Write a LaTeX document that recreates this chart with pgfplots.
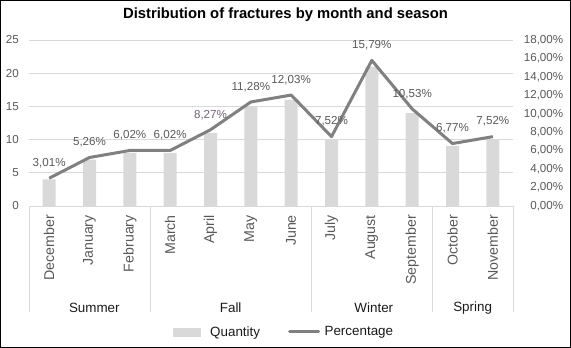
\documentclass[border=0pt]{standalone}
\usepackage{pgfplots}
\pgfplotsset{compat=1.18}
\usepackage{fontspec}
\setmainfont{Liberation Sans}

\definecolor{barfill}{HTML}{D9D9D9}
\definecolor{gridc}{HTML}{D9D9D9}
\definecolor{linec}{HTML}{808080}
\definecolor{labc}{HTML}{595959}
\definecolor{labp}{HTML}{74617A}
\definecolor{darktext}{HTML}{1A1A1A}

\newcommand{\tickfont}{\fontsize{11.6bp}{13bp}\selectfont}
\newcommand{\monthfont}{\fontsize{14.2bp}{16bp}\selectfont}
\newcommand{\groupfont}{\fontsize{13.4bp}{15bp}\selectfont}

\begin{document}
\begin{tikzpicture}
\useasboundingbox (0,0) rectangle (571bp,348bp);
\draw[black, line width=1bp] (0.5bp,0.5bp) rectangle (570.5bp,347.5bp);
\node[font=\fontsize{14.8bp}{17bp}\selectfont\bfseries] at (285.5bp,333bp)
  {Distribution of fractures by month and season};

% quantity (left axis)
\begin{axis}[
  at={(29bp,142bp)}, anchor=south west,
  width=484bp, height=166bp, scale only axis,
  xmin=-0.5, xmax=11.5, ymin=0, ymax=25,
  ytick={0,5,...,25},
  xtick={0,...,11},
  xticklabels={December,January,February,March,April,May,June,July,August,September,October,November},
  axis x line*=bottom, axis y line*=left,
  y axis line style={draw=none},
  x axis line style={gridc, line width=0.75bp, -},
  major tick length=0pt,
  ymajorgrids, grid style={gridc, line width=0.75bp},
  /pgf/number format/assume math mode=true,
  yticklabel style={font=\tickfont, text=labc, anchor=east, inner sep=0pt, xshift=-10bp},
  xticklabel style={font=\monthfont, text=labc, inner sep=0pt, yshift=-9bp, rotate=90, anchor=east},
  clip=false,
]
\addplot[ybar, bar width=13bp, fill=barfill, draw=none] coordinates {
  (0,4) (1,7) (2,8) (3,8) (4,11) (5,15) (6,16) (7,10) (8,21) (9,14) (10,9) (11,10)
};
% season brackets below the month labels
\pgfplotsinvokeforeach{-0.5,2.5,6.5,9.5,11.5}{
  \draw[gridc, line width=0.75bp] (axis cs:#1,0) -- ++(0bp,-106bp);
}
\node[font=\groupfont, text=darktext] at (axis cs:1.12,0) [yshift=-102bp] {Summer};
\node[font=\groupfont, text=darktext] at (axis cs:4.5,0) [yshift=-102bp] {Fall};
\node[font=\groupfont, text=darktext] at (axis cs:8.05,0) [yshift=-102bp] {Winter};
\node[font=\groupfont, text=darktext] at (axis cs:10.5,0) [yshift=-102bp] {Spring};
\end{axis}

% percentage (right axis)
\begin{axis}[
  at={(29bp,142bp)}, anchor=south west,
  width=484bp, height=166bp, scale only axis,
  xmin=-0.5, xmax=11.5, ymin=0, ymax=18,
  hide x axis,
  axis y line*=right,
  y axis line style={draw=none},
  ytick={0,2,...,18},
  major tick length=0pt,
  /pgf/number format/assume math mode=true,
  yticklabel={\pgfmathprintnumber[fixed,fixed zerofill,precision=2,use comma]{\tick}\%},
  yticklabel style={font=\tickfont, text=labc, text width=40bp, align=right, anchor=west, inner sep=0pt, xshift=10bp},
  clip=false,
  legend style={at={(0.527,-0.759)}, anchor=center, draw=none, fill=none,
    font=\groupfont, text=darktext, legend columns=2,
    /tikz/every even column/.append style={column sep=26bp}},
  legend cell align=left,
]
\addlegendimage{legend image code/.code={\fill[barfill] (0bp,-4bp) rectangle (27bp,4bp); \path[draw=none,fill=none] (0bp,-4bp) rectangle (35bp,4bp);}}
\addlegendentry{Quantity}
\addplot[linec, line width=3bp, line join=round,
  legend image code/.code={\draw[linec, line width=3bp, line cap=round] (0bp,0bp) -- (29bp,0bp); \path[draw=none,fill=none] (0bp,0bp) rectangle (33bp,0bp);},
  nodes near coords, point meta=explicit symbolic,
  every node near coord/.append style={font=\tickfont, text=labc, anchor=center, yshift=15bp}]
coordinates {
  (0,3.01) [3,01\%]
  (1,5.26) [5,26\%]
  (2,6.02) [6,02\%]
  (3,6.02) [6,02\%]
  (4,8.27) [\textcolor{labp}{8,27\%}]
  (5,11.28) [11,28\%]
  (6,12.03) [12,03\%]
  (7,7.52) [7,52\%]
  (8,15.79) [15,79\%]
  (9,10.53) [10,53\%]
  (10,6.77) [6,77\%]
  (11,7.52) [7,52\%]
};
\addlegendentry{Percentage}
\end{axis}
\end{tikzpicture}
\end{document}
